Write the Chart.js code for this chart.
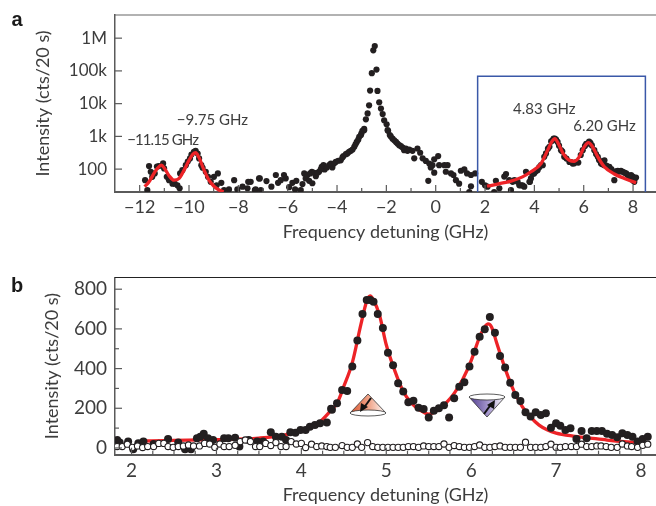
<!DOCTYPE html>
<html>
<head>
<meta charset="utf-8">
<script src="https://cdn.jsdelivr.net/npm/chart.js@4"></script>
<style>
  html, body { margin: 0; padding: 0; background: #fff; }
  canvas { position: absolute; left: 0; }
  #chartA { top: 0; }
  #chartB { top: 256px; }
</style>
</head>
<body>
<canvas id="chartA" width="656" height="243"></canvas>
<canvas id="chartB" width="656" height="250"></canvas>
<script>
// panel a: full spectrum (log axis)
const aTicksX = [-12,-11,-10,-9,-8,-7,-6,-5,-4,-3,-2,-1,0,1,2,3,4,5,6,7,8];
const aLabeledX = [-12,-10,-8,-6,-4,-2,0,2,4,6,8];
const aTicksY = [100,1000,10000,100000,1000000];
const aLabelsY = ['100','1k','10k','100k','1M'];

const aDotsX = [-11.78,-11.69,-11.62,-11.55,-11.49,-11.39,-11.22,-11.05,-11.01,-10.9,-10.81,-10.67,-10.58,-10.47,-10.38,-10.36,-10.27,-10.13,-9.96,-9.8,-9.73,-9.59,-9.5,-9.32,-9.23,-9.12,-8.99,-8.83,-8.88,-8.69,-8.58,-8.38,-8.17,-8.04,-7.83,-7.6,-7.63,-7.33,-7.16,
  -7.5,-7.3,-7.13,-7.09,-6.86,-6.66,-6.48,-6.39,-6.28,-6.15,-6.08,-5.94,-5.81,-5.7,-5.65,-5.47,-5.4,-5.33,-5.27,-5.13,-5.0,-5.02,-4.86,-4.73,-4.62,-4.5,-4.32,-4.19,-4.05,-3.85,-3.74,-3.58,-3.44,-3.3,-3.2,-3.1,-3.01,-2.9,
  -5.2,-5.09,-4.93,-4.79,-4.66,-4.55,-4.41,-4.25,-4.12,-3.95,-3.78,-3.64,-3.51,-3.37,-3.25,-3.14,
  -3.03,-2.97,-2.9,-2.83,-2.76,-2.7,-2.66,-2.59,-2.53,-2.47,-2.4,-2.36,-2.29,-2.22,-2.15,-2.09,-1.99,-1.93,-1.86,-1.75,-1.61,-1.48,-1.34,-1.07,-0.74,-1.82,-1.68,-1.55,-1.41,-1.21,
  -1.95,-1.28,-1.14,-0.94,-0.63,-0.87,-0.53,-0.4,-0.26,-0.06,0.1,-0.13,-0.2,0.14,0.35,0.48,0.41,0.62,0.72,0.82,0.95,1.02,1.16,1.27,1.43,1.6,1.43,-0.06,-0.3,1.36,1.87,2.0,2.1,
  2.37,2.44,2.58,2.78,2.85,3.05,3.12,3.32,3.46,3.59,3.82,3.86,3.99,4.13,4.27,4.4,4.47,4.61,4.74,4.83,4.94,5.08,5.21,5.42,5.55,5.78,5.96,6.16,6.27,6.43,6.57,6.7,6.84,7.04,7.24,7.38,7.51,7.72,7.92,8.12,7.99,
  2.98,3.19,3.39,3.52,3.8,3.66,4.34,6.84,7.38,7.58,7.78,7.99,8.05,
  3.92,4.05,4.2,4.55,4.68,4.78,4.88,5.0,5.13,5.3,5.48,5.62,5.7,5.88,6.05,6.1,6.22,6.33,6.5,6.62,6.76,6.92,7.12,7.3,7.45,7.65,7.85,8.07,
  -11.3,-10.05,-9.9,-9.65,-9.45];
const aDotsY = [46,23,124,83,58,74,124,149,105,58,46,36,36,32,26,74,93,132,212,337,363,212,132,83,58,41,58,74,32,38,23,24,46,24,29,41,26,23,52,
  41,24,52,23,43,29,66,38,46,66,52,28,38,24,44,23,35,74,52,44,37,83,61,83,118,98,132,112,166,186,251,302,363,479,676,966,1230,1550,
  66,74,77,77,98,132,112,148,148,180,227,286,339,398,575,794,
  1096,1480,1700,3310,5010,8910,25100,85100,426000,575000,110000,24500,11000,7080,4790,3090,2340,1480,1096,851,676,537,457,398,427,1000,759,603,501,427,
  1550,380,363,363,316,214,214,178,148,200,251,132,112,132,132,132,83,74,66,46,36,89,98,74,66,74,30,78,44,20,41,32,29,
  20,44,26,59,71,23,41,41,32,29,41,52,74,93,132,237,302,479,759,851,676,380,237,166,148,158,380,603,631,380,237,148,132,117,46,89,89,74,66,55,46,
  46,46,32,32,41,83,132,186,83,83,66,59,41,
  70,85,115,420,700,860,800,520,350,210,165,150,165,270,510,590,690,530,290,190,140,128,100,85,85,78,62,52,
  120,170,280,300,110];

const aFitLeftX = [-11.8,-11.62,-11.42,-11.28,-11.12,-10.99,-10.81,-10.61,-10.4,-10.2,-10.0,-9.84,-9.73,-9.6,-9.39,-9.19,-8.99,-8.78,-8.6];
const aFitLeftY = [29,41,74,105,132,105,63,46,52,93,186,288,316,229,93,46,30,23,20];
const aFitRightX = [2.08,2.51,3.05,3.52,3.86,4.27,4.54,4.7,4.83,4.97,5.15,5.42,5.62,5.82,6.02,6.19,6.36,6.57,6.84,7.24,7.65,8.12];
const aFitRightY = [30,35,43,58,83,148,380,676,851,603,316,186,174,237,479,646,479,237,117,71,52,38];

// blue box marking the range shown in panel b
const boxX = [1.7,1.7,8.5,8.5];
const boxY = [20,68400,68400,20];

const aPeakNames = ['\u221211.15 GHz','\u22129.75 GHz','4.83 GHz','6.20 GHz'];
const aPeakNameX = [-11.07,-9.05,4.40,6.84];
const aPeakNameY = [790,3200,6900,2000];
const aPeakNameTrack = ['-0.9px','0px','0px','0px'];

// panel b: zoom on the two spin-flip peaks
const bTicksX = [2,2.25,2.5,2.75,3,3.25,3.5,3.75,4,4.25,4.5,4.75,5,5.25,5.5,5.75,6,6.25,6.5,6.75,7,7.25,7.5,7.75,8];
const bLabeledX = [2,3,4,5,6,7,8];
const bTicksY = [0,100,200,300,400,500,600,700,800];
const bLabeledY = [0,200,400,600,800];

const bDotsX = [1.83,1.86,1.96,2.02,2.08,2.14,2.26,2.43,2.55,2.63,2.7,2.77,2.81,2.85,2.9,2.96,3.09,3.14,3.22,3.27,3.38,3.48,3.55,3.64,3.7,3.77,3.82,3.87,3.93,3.99,4.05,4.1,4.16,4.22,4.3,4.35,
  4.36,4.42,4.48,4.54,4.6,4.66,4.72,4.77,4.81,4.85,4.9,4.96,5.02,5.08,5.14,5.2,5.26,5.32,5.38,5.44,5.5,5.56,5.62,5.68,5.74,5.8,5.86,5.92,5.98,6.04,6.1,6.16,6.22,6.28,6.34,6.4,6.46,6.52,6.58,6.64,6.7,6.76,6.82,6.88,6.94,7.0,7.05,7.11,7.17,7.24,7.3,7.36,7.42,7.48,7.54,7.6,7.66,7.72,7.78,7.84,7.9,7.96,8.02,8.08];
const bDotsY = [40,27,32,-7,24,32,20,45,27,-7,-7,49,57,71,49,40,49,49,52,7,40,32,32,79,57,57,40,79,77,91,91,107,116,124,128,197,
  192,225,292,287,410,541,675,746,746,737,675,605,480,417,326,284,230,238,203,196,153,188,200,215,153,250,309,331,410,485,561,598,660,581,464,405,329,267,237,180,158,180,166,175,102,124,112,91,99,45,86,49,86,86,86,71,65,54,74,65,57,32,45,57];

const bOpenX = [1.83,1.89,1.95,2.01,2.07,2.13,2.19,2.26,2.32,2.38,2.43,2.49,2.55,2.61,2.67,2.73,2.8,2.86,2.92,2.98,3.04,3.09,3.15,3.22,3.28,3.34,3.4,3.46,3.51,3.58,3.64,3.7,3.76,3.82,3.88,3.94,4.0,4.05,4.12,4.18,4.24,4.3,
  4.34,4.4,4.48,4.54,4.6,4.66,4.71,4.78,4.84,4.9,4.96,5.02,5.08,5.14,5.2,5.26,5.32,5.38,5.44,5.5,5.56,5.62,5.68,5.74,5.8,5.86,5.92,5.98,6.04,6.1,6.16,6.22,6.28,6.34,6.4,6.46,6.52,6.58,6.64,6.7,6.76,6.82,6.88,6.94,7.0,7.05,7.11,7.18,7.24,7.3,7.36,7.42,7.48,7.53,7.59,7.65,7.72,7.78,7.84,7.89,7.96,8.02,8.08];
const bOpenY = [7,7,19,3,10,2,7,7,23,23,7,3,7,10,15,10,10,23,20,3,20,7,7,13,32,40,32,7,7,23,12,27,7,7,32,20,23,2,19,7,10,7,
  3,3,12,3,3,20,3,27,7,3,3,3,3,3,3,7,7,3,10,7,7,7,20,3,12,7,3,3,7,15,3,3,7,10,3,3,3,3,29,3,3,3,7,19,3,3,7,7,7,19,7,7,10,10,7,3,3,20,10,7,3,13,19];

const bFitX = [2.1,2.5,3,3.5,3.8,4.0,4.2,4.35,4.42,4.5,4.6,4.7,4.77,4.81,4.85,4.92,5.0,5.1,5.2,5.3,5.4,5.5,5.6,5.7,5.8,5.9,6.0,6.1,6.16,6.2,6.24,6.3,6.4,6.5,6.6,6.7,6.8,6.9,7.0,7.2,7.4,7.6,7.8,7.95];
const bFitY = [35,38,42,50,65,90,125,190,225,310,430,620,740,766,745,670,520,390,285,225,190,170,190,225,275,345,440,560,610,625,610,530,400,290,210,155,115,90,75,60,50,40,32,28];

const inkText = '#3d3d3d';
const axisGrey = '#5a5a5a';
const dotBlack = '#231f20';
const fitRed = '#ed2327';
const fontName = 'Lato, "Noto Sans", sans-serif';

function pts(xs, ys) {
  return xs.map((x, i) => ({ x: x, y: ys[i] }));
}

function dotSet(xs, ys, radius) {
  return { data: pts(xs, ys), showLine: false, pointRadius: radius, pointBackgroundColor: dotBlack, pointBorderWidth: 0 };
}

function fitSet(xs, ys) {
  return { data: pts(xs, ys), showLine: true, pointRadius: 0, borderColor: fitRed, borderWidth: 3.3, cubicInterpolationMode: 'monotone' };
}

function frameLines(majorX, majorY, topColor) {
  return {
    id: 'frameLines',
    afterDatasetsDraw(chart) {
      const { ctx, chartArea, scales } = chart;
      ctx.save();
      ctx.strokeStyle = axisGrey;
      ctx.lineWidth = 1.2;
      scales.x.ticks.forEach(t => {
        const px = scales.x.getPixelForValue(t.value);
        const len = majorX.includes(t.value) ? 7 : 4;
        ctx.beginPath();
        ctx.moveTo(px, chartArea.bottom);
        ctx.lineTo(px, chartArea.bottom - len);
        ctx.stroke();
      });
      scales.y.ticks.forEach(t => {
        const py = scales.y.getPixelForValue(t.value);
        const len = majorY.includes(t.value) ? 7 : 4;
        ctx.beginPath();
        ctx.moveTo(chartArea.left, py);
        ctx.lineTo(chartArea.left + len, py);
        ctx.stroke();
      });
      ctx.strokeStyle = topColor;
      ctx.beginPath();
      ctx.moveTo(chartArea.left, chartArea.top);
      ctx.lineTo(chartArea.right, chartArea.top);
      ctx.stroke();
      ctx.restore();
    }
  };
}

function panelLetter(letter, y) {
  return {
    id: 'panelLetter',
    afterDraw(chart) {
      const ctx = chart.ctx;
      ctx.save();
      ctx.font = 'bold 20px "Liberation Sans", sans-serif';
      ctx.fillStyle = '#1a1a1a';
      ctx.textAlign = 'center';
      ctx.textBaseline = 'middle';
      ctx.fillText(letter, 17, y);
      ctx.restore();
    }
  };
}

const peakNames = {
  id: 'peakNames',
  afterDatasetsDraw(chart) {
    const { ctx, scales } = chart;
    ctx.save();
    ctx.font = '15px ' + fontName;
    ctx.fillStyle = inkText;
    ctx.textAlign = 'center';
    ctx.textBaseline = 'middle';
    aPeakNames.forEach((name, i) => {
      ctx.letterSpacing = aPeakNameTrack[i];
      ctx.fillText(name, scales.x.getPixelForValue(aPeakNameX[i]), scales.y.getPixelForValue(aPeakNameY[i]));
    });
    ctx.restore();
  }
};

//Small spin cones under the two peaks
function cone(ctx, cx, apexY, baseY, colorDark, colorMid) {
  const grad = ctx.createLinearGradient(cx - 18, 0, cx + 18, 0);
  grad.addColorStop(0, colorDark);
  grad.addColorStop(0.55, colorMid);
  grad.addColorStop(1, '#ffffff');
  ctx.fillStyle = grad;
  ctx.strokeStyle = '#333';
  ctx.lineWidth = 0.8;
  ctx.beginPath();
  ctx.moveTo(cx, apexY);
  ctx.lineTo(cx - 18, baseY);
  ctx.lineTo(cx + 18, baseY);
  ctx.closePath();
  ctx.fill();
  ctx.stroke();
  ctx.fillStyle = '#fff';
  ctx.beginPath();
  ctx.ellipse(cx, baseY, 18, 3, 0, 0, Math.PI * 2);
  ctx.fill();
  ctx.stroke();
}

const spinCones = {
  id: 'spinCones',
  afterDatasetsDraw(chart) {
    const ctx = chart.ctx;
    ctx.save();
    ctx.translate(0, -256);
    cone(ctx, 368, 394, 413, '#d9532c', '#f0a88e');
    ctx.strokeStyle = '#111';
    ctx.lineWidth = 2;
    ctx.beginPath();
    ctx.moveTo(371, 398);
    ctx.lineTo(363, 409);
    ctx.stroke();
    ctx.fillStyle = '#111';
    ctx.beginPath();
    ctx.moveTo(360, 412);
    ctx.lineTo(361, 403);
    ctx.lineTo(368, 407);
    ctx.closePath();
    ctx.fill();

    cone(ctx, 487, 417, 397, '#4d3a8c', '#a99bd0');
    ctx.strokeStyle = '#111';
    ctx.lineWidth = 2;
    ctx.beginPath();
    ctx.moveTo(484, 414);
    ctx.lineTo(492, 403);
    ctx.stroke();
    ctx.fillStyle = '#111';
    ctx.beginPath();
    ctx.moveTo(495, 400);
    ctx.lineTo(494, 409);
    ctx.lineTo(487, 405);
    ctx.closePath();
    ctx.fill();
    ctx.restore();
  }
};

function baseOptions(padTop, axisHeight, sizeX, sizeY, padX, titlePad) {
  return {
    responsive: false,
    animation: false,
    layout: { autoPadding: false, padding: { top: padTop, left: 0, right: 0, bottom: 0 } },
    plugins: { legend: { display: false }, tooltip: { enabled: false } },
    scales: {
      x: {
        type: 'linear',
        grid: { display: false, drawTicks: false },
        border: { color: axisGrey, width: 2 },
        ticks: { color: inkText, font: { family: fontName, size: sizeX }, padding: padX, autoSkip: false, maxRotation: 0 },
        title: { display: true, text: 'Frequency detuning (GHz)', color: inkText, font: { family: fontName, size: 18 }, padding: 0 },
        afterFit(scale) { scale.height = axisHeight; scale.paddingLeft = 0; scale.paddingRight = 0; }
      },
      y: {
        grid: { display: false, drawTicks: false },
        border: { color: axisGrey, width: 1.5 },
        ticks: { color: inkText, font: { family: fontName, size: sizeY }, padding: 8, autoSkip: false },
        title: { display: true, text: 'Intensity (cts/20 s)', color: inkText, font: { family: fontName, size: 18 }, padding: { top: titlePad, bottom: 0 } },
        afterFit(scale) { scale.width = 115; scale.paddingTop = 0; scale.paddingBottom = 0; }
      }
    }
  };
}

const optsA = baseOptions(15, 51, 18, 17, 4, 32);
optsA.scales.x.min = -13;
optsA.scales.x.max = 8.93;
optsA.scales.x.afterBuildTicks = scale => { scale.ticks = aTicksX.map(v => ({ value: v })); };
optsA.scales.x.ticks.callback = v => aLabeledX.includes(v) ? String(v).replace('-', '\u2212') : '';
optsA.scales.y.type = 'logarithmic';
optsA.scales.y.min = 20;
optsA.scales.y.max = 5100000;
optsA.scales.y.afterBuildTicks = scale => { scale.ticks = aTicksY.map(v => ({ value: v })); };
optsA.scales.y.ticks.callback = v => aLabelsY[aTicksY.indexOf(v)];

// first dataset in the list is painted last
new Chart(document.getElementById('chartA'), {
  type: 'scatter',
  data: {
    datasets: [
      { data: pts(boxX, boxY), showLine: true, pointRadius: 0, borderColor: '#3a58a8', borderWidth: 1.5 },
      fitSet(aFitLeftX, aFitLeftY),
      fitSet(aFitRightX, aFitRightY),
      dotSet(aDotsX, aDotsY, 3.1)
    ]
  },
  options: optsA,
  plugins: [frameLines(aLabeledX, aTicksY, '#666666'), peakNames, panelLetter('a', 20)]
});

const optsB = baseOptions(21.5, 51.3, 19, 19, 4.5, 41);
optsB.scales.x.min = 1.805;
optsB.scales.x.max = 8.177;
optsB.scales.x.afterBuildTicks = scale => { scale.ticks = bTicksX.map(v => ({ value: v })); };
optsB.scales.x.ticks.callback = v => bLabeledX.includes(v) ? String(v) : '';
optsB.scales.y.type = 'linear';
optsB.scales.y.min = -34;
optsB.scales.y.max = 859;
optsB.scales.y.afterBuildTicks = scale => { scale.ticks = bTicksY.map(v => ({ value: v })); };
optsB.scales.y.ticks.callback = v => bLabeledY.includes(v) ? String(v) : '';

new Chart(document.getElementById('chartB'), {
  type: 'scatter',
  data: {
    datasets: [
      { data: pts(bOpenX, bOpenY), showLine: false, pointRadius: 3.1, pointBackgroundColor: '#fff', pointBorderColor: dotBlack, pointBorderWidth: 1.1 },
      dotSet(bDotsX, bDotsY, 4),
      fitSet(bFitX, bFitY)
    ]
  },
  options: optsB,
  plugins: [frameLines(bLabeledX, bLabeledY, '#222222'), spinCones, panelLetter('b', 30)]
});
</script>
</body>
</html>
